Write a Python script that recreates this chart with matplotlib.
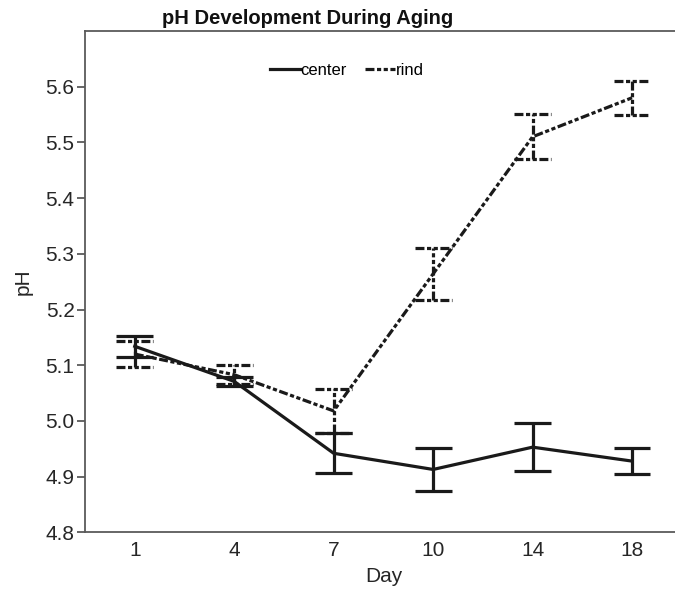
import numpy as np
import matplotlib
matplotlib.use("Agg")
import matplotlib.pyplot as plt

days = ["1", "4", "7", "10", "14", "18"]

center_mean = [5.134, 5.071, 4.942, 4.913, 4.953, 4.928]
center_err = [0.019, 0.008, 0.036, 0.038, 0.043, 0.024]

rind_mean = [5.120, 5.083, 5.018, 5.264, 5.510, 5.580]
rind_err = [0.024, 0.017, 0.039, 0.047, 0.040, 0.031]


def main() -> None:
    plt.rcParams['font.family'] = ['Liberation Sans', 'DejaVu Sans']

    fig = plt.figure(figsize=(6.75, 5.9), dpi=100)
    ax = fig.add_axes([0.126, 0.0976, 0.884, 0.85])

    x = np.arange(len(days))
    lw = 2.3
    cap = 0.185
    rind_ls = (0, (2.8, 0.8, 1.3, 0.8, 1.3, 0.8))
    col = '#1a1a1a'
    txt = '#262626'

    # center: solid
    cm = np.array(center_mean)
    ce = np.array(center_err)
    ax.plot(x, cm, color=col, lw=lw, ls='-', label='center', zorder=3)
    ax.vlines(x, cm - ce, cm + ce, color=col, lw=lw, zorder=3)
    ax.hlines(cm + ce, x - cap, x + cap, color=col, lw=lw, zorder=3)
    ax.hlines(cm - ce, x - cap, x + cap, color=col, lw=lw, zorder=3)

    # rind: dashed
    rm = np.array(rind_mean)
    re_ = np.array(rind_err)
    ax.plot(x, rm, color=col, lw=lw, ls=rind_ls, label='rind', zorder=2)
    ax.vlines(x, rm - re_, rm + re_, color=col, lw=lw, linestyles=[rind_ls], zorder=2)
    ax.hlines(rm + re_, x - cap, x + cap, color=col, lw=lw, linestyles=[rind_ls], zorder=2)
    ax.hlines(rm - re_, x - cap, x + cap, color=col, lw=lw, linestyles=[rind_ls], zorder=2)

    ax.set_xlim(-0.5, 5.5)
    ax.set_ylim(4.8, 5.7)
    ax.set_xticks(x)
    ax.set_xticklabels(days)
    yt = np.arange(4.8, 5.65, 0.1)
    ax.set_yticks(yt)
    ax.set_yticklabels([f"{v:.1f}" for v in yt])

    for s in ax.spines.values():
        s.set_color('#5a5a5a')
        s.set_linewidth(1.3)

    ax.tick_params(axis='y', length=5.5, width=1.3, color='#5a5a5a',
                   labelsize=15, labelcolor=txt, pad=2)
    ax.tick_params(axis='x', length=0, labelsize=15, labelcolor=txt, pad=6)

    ax.set_xlabel('Day', fontsize=15, color=txt, labelpad=5)
    ax.set_ylabel('pH', fontsize=15, color=txt, labelpad=9)

    fig.suptitle('pH Development During Aging', x=0.456, y=0.984,
                 fontsize=14.5, fontweight='bold', color='#111111')

    fig.legend(loc='center', bbox_to_anchor=(0.514, 0.881), ncol=2,
               frameon=False, fontsize=12, handlelength=1.8,
               handletextpad=0.05, columnspacing=1.1, borderpad=0)

    plt.savefig('out.png', dpi=100)
    return


if __name__ == "__main__":
    main()
